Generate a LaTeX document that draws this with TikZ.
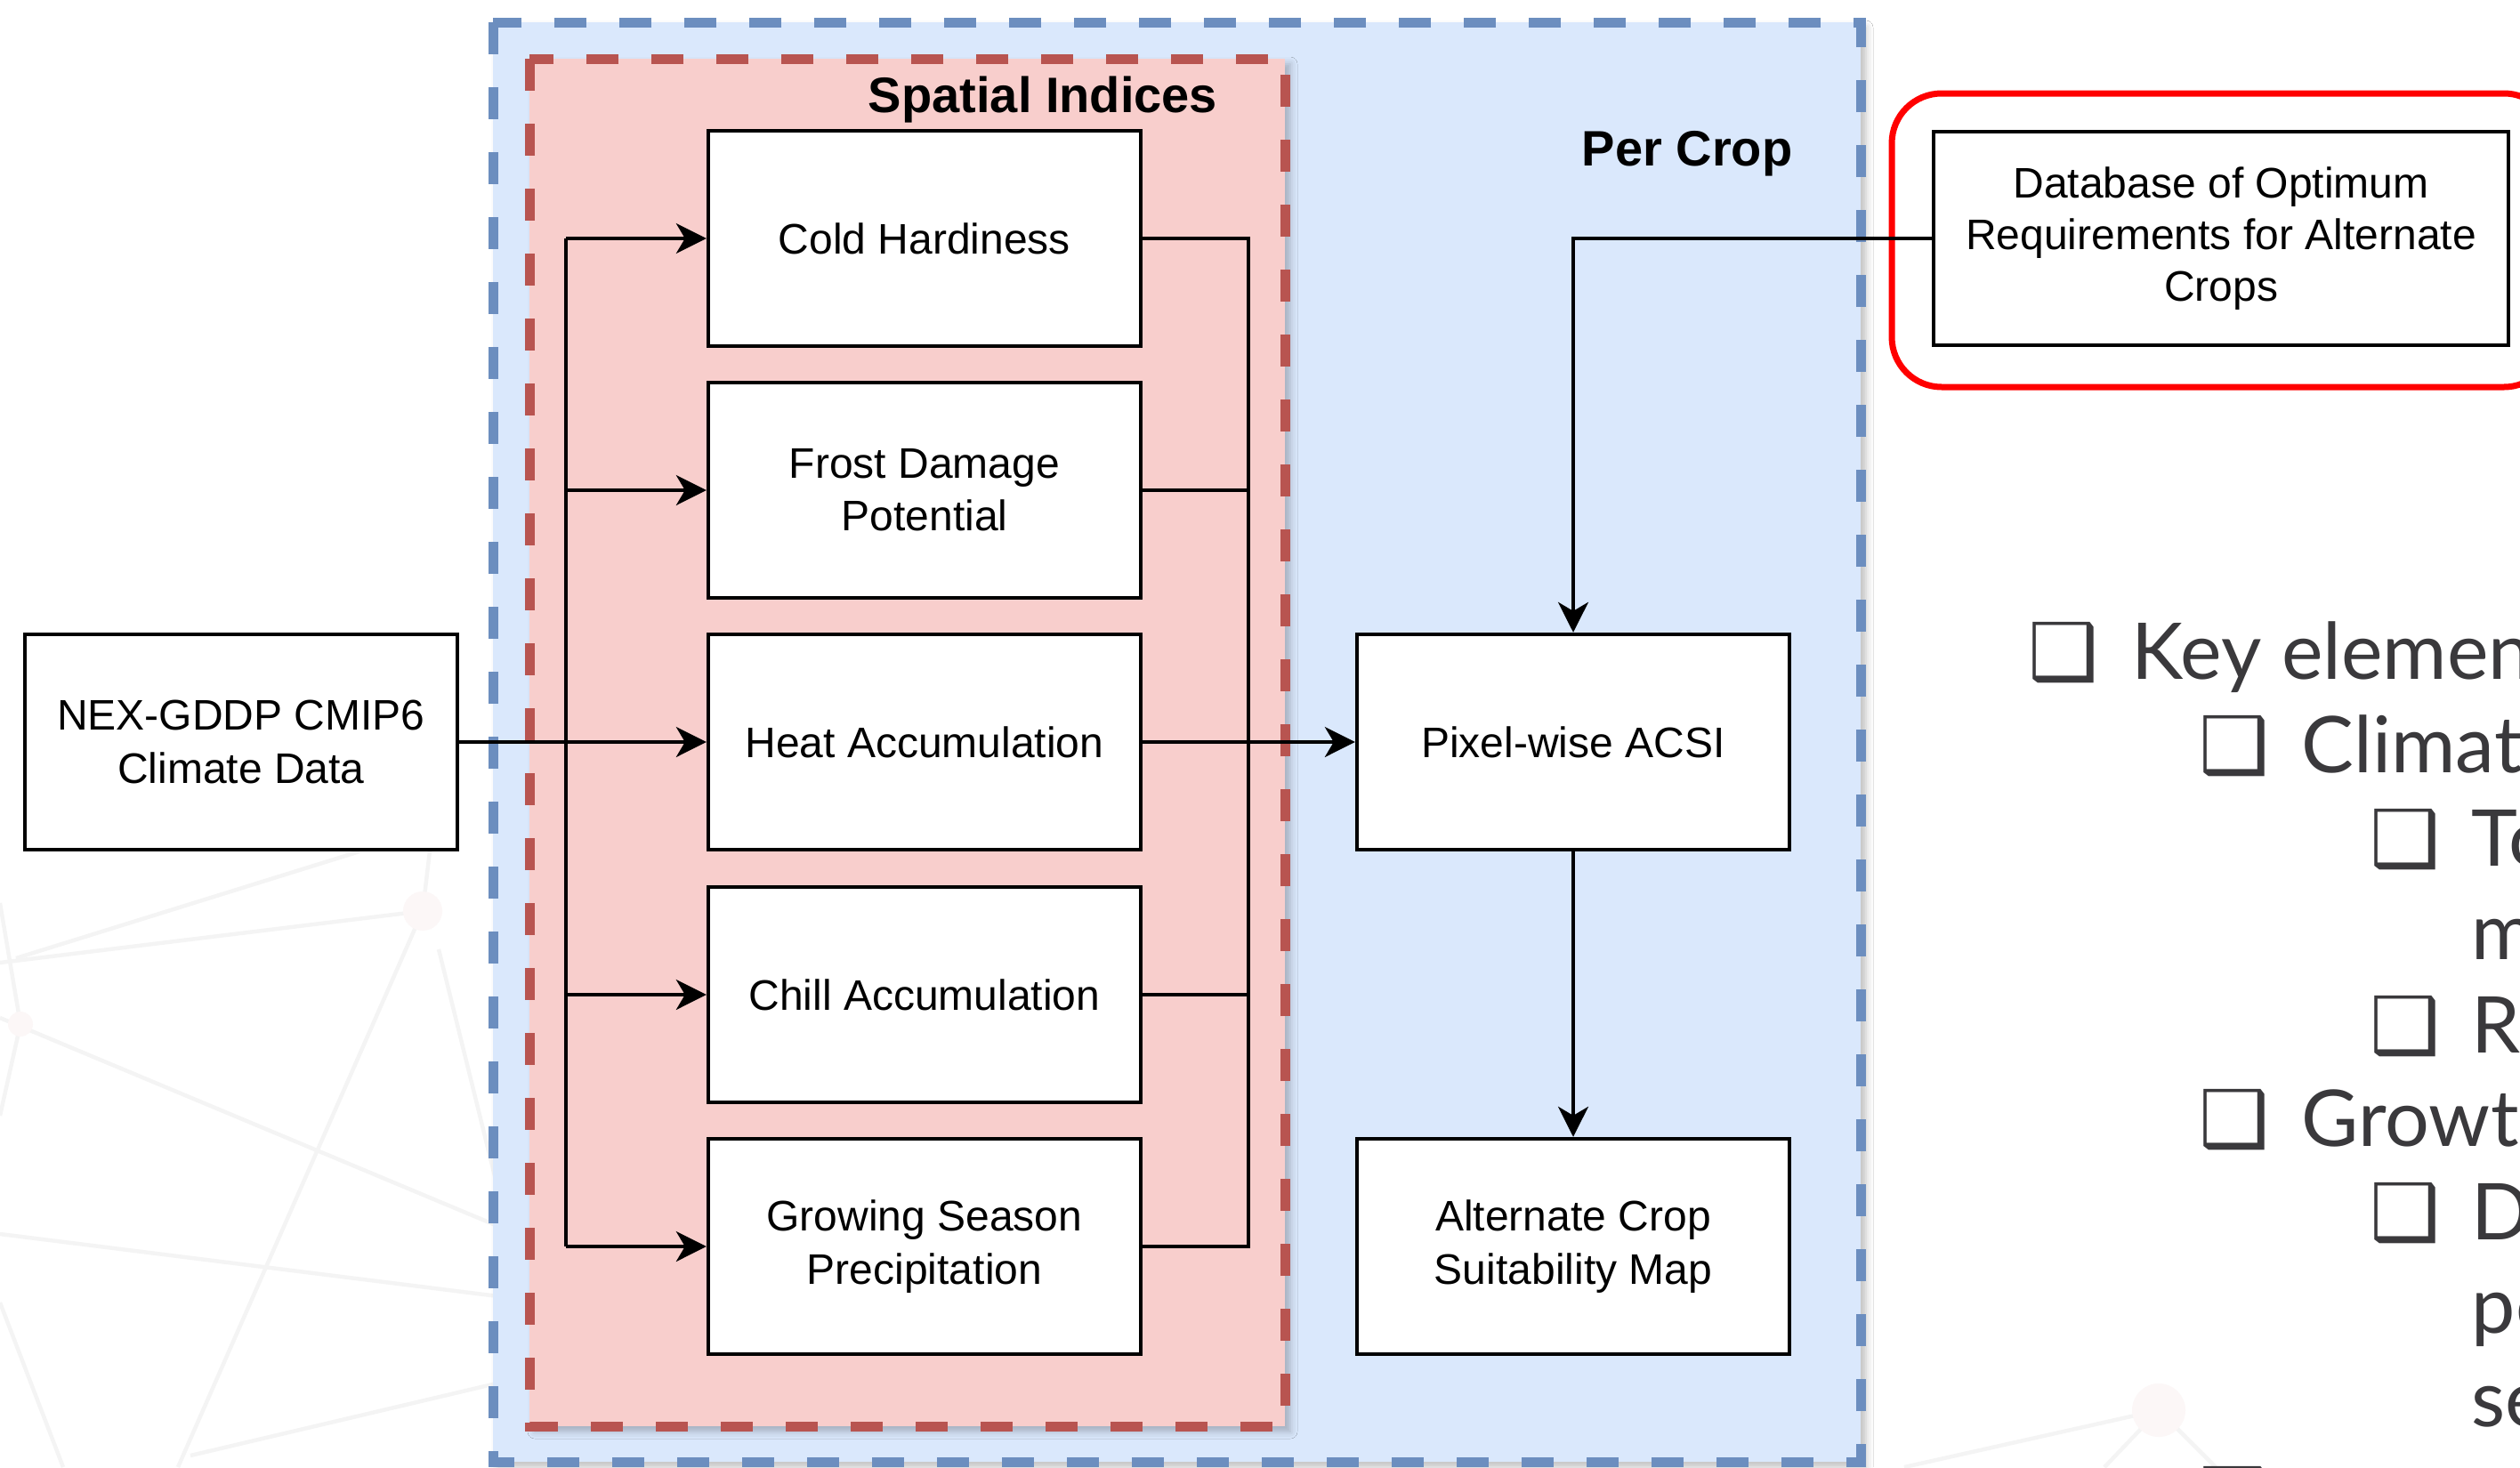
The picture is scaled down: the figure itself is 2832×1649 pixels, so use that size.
\documentclass[tikz,border=0pt]{standalone}
\usepackage{fontspec}
\setmainfont{Liberation Sans}
\newfontfamily\latofont{Lato}
\newfontfamily\symfont{DejaVu Sans}
\usetikzlibrary{arrows.meta,shadows.blur}

\definecolor{bluefill}{HTML}{DAE8FC}
\definecolor{bluestroke}{HTML}{6C8EBF}
\definecolor{redfill}{HTML}{F8CECC}
\definecolor{redstroke}{HTML}{B85450}
\definecolor{hilite}{HTML}{FF0000}
\definecolor{slidetext}{HTML}{3A393C}
\definecolor{netline}{HTML}{F4F4F4}
\definecolor{netdot}{HTML}{FCF7F7}

\tikzset{
  proc/.style={draw=black, line width=1.1pt, fill=white, minimum width=121.5pt,
    minimum height=60.5pt, inner sep=2pt, align=center,
    font=\fontsize{12}{14.8}\selectfont},
  wideproc/.style={proc, minimum width=161.5pt, minimum height=60pt,
    font=\fontsize{12}{14.6}\selectfont},
  conn/.style={draw=black, line width=0.8pt},
  arr/.style={conn, -{Stealth[length=8.5pt,width=8.5pt,inset=2.5pt]}},
  groupbox/.style={line width=2.75pt, dash pattern=on 9pt off 9.25pt,
    blur shadow={shadow xshift=1.5pt, shadow yshift=-1.5pt, shadow opacity=25, shadow blur radius=2pt}},
  grouptitle/.style={font=\bfseries\fontsize{14}{16}\selectfont, inner sep=0pt},
  netedge/.style={draw=netline, line width=1.1pt},
  bullet/.style={anchor=base west, inner sep=0pt, text=slidetext,
    font=\symfont\fontsize{22}{26}\selectfont},
  slideline/.style={anchor=base west, inner sep=0pt, text=slidetext,
    font=\latofont\fontsize{22}{26}\selectfont}
}

\begin{document}
\begin{tikzpicture}[x=0.25pt,y=-0.25pt]
\useasboundingbox[fill=white] (0,0) rectangle (2832,1649);

% faint network pattern of the slide background
\draw[netedge] (0,1082) -- (475,1024) -- (200,1649);
\draw[netedge] (475,1024) -- (484,948);
\draw[netedge] (493,1067) -- (600,1500);
\draw[netedge] (0,1144) -- (600,1395);
\draw[netedge] (0,1387) -- (600,1462);
\draw[netedge] (0,1015) -- (23,1151) -- (0,1254);
\draw[netedge] (404,957) -- (18,1077);
\draw[netedge] (0,1464) -- (71,1649);
\draw[netedge] (214,1636) -- (600,1545);
\draw[netedge] (2140,1649) -- (2426,1585) -- (2365,1649);
\draw[netedge] (2426,1585) -- (2490,1649);
\fill[netdot] (475,1024) circle (22);
\fill[netdot] (23,1151) circle (14);
\fill[netdot] (2426,1585) circle (30);

% group frames
\draw[groupbox, draw=bluestroke, fill=bluefill] (554,25) rectangle (2091,1643);
\draw[groupbox, draw=redstroke, fill=redfill] (595,66) rectangle (1444,1603);

\node[grouptitle] (tspatial) at (1172,112) {Spatial Indices};
\node[grouptitle] (tcrop) at (1896,173) {Per Crop};

% process boxes
\node[proc] (nex) at (271,834) {NEX-GDDP CMIP6\\Climate Data};
\node[proc] (cold) at (1039,268) {Cold Hardiness};
\node[proc] (frost) at (1039,551) {Frost Damage\\Potential};
\node[proc] (heat) at (1039,834) {Heat Accumulation};
\node[proc] (chill) at (1039,1118) {Chill Accumulation};
\node[proc] (gsp) at (1039,1401) {Growing Season\\Precipitation};
\node[proc] (acsi) at (1768,834) {Pixel-wise ACSI};
\node[proc] (alt) at (1768,1401) {Alternate Crop\\Suitability Map};
\node[wideproc] (db) at (2496,268) {Database of Optimum\\Requirements for Alternate\\Crops};

% highlight around the database
\draw[hilite, line width=1.75pt, rounded corners=14pt] (2126,105) rectangle (2870,435);

% distribution bus into the indices
\coordinate (lb) at (636,834);
\coordinate (rb) at (1403,834);
\draw[conn] (lb |- cold.west) -- (lb |- gsp.west);
\draw[arr] (nex.east) -- (heat.west);
\draw[arr] (lb |- cold.west) -- (cold.west);
\draw[arr] (lb |- frost.west) -- (frost.west);
\draw[arr] (lb |- chill.west) -- (chill.west);
\draw[arr] (lb |- gsp.west) -- (gsp.west);

% collecting bus out of the indices
\draw[conn] (cold.east) -- (rb |- cold.east) -- (rb |- gsp.east) -- (gsp.east);
\draw[conn] (frost.east) -- (rb |- frost.east);
\draw[conn] (chill.east) -- (rb |- chill.east);
\draw[arr] (heat.east) -- (acsi.west);

\draw[arr] (db.west) -| (acsi.north);
\draw[arr] (acsi.south) -- (alt.north);

% slide bullet list
\node[bullet] (b0) at (2279,763) {❑};
\node[slideline] (s0) at (2395,763) {Key elemen};
\node[bullet] (b1) at (2471,868) {❑};
\node[slideline] (s1) at (2586,868) {Climat};
\node[bullet] (b2) at (2663,973) {❑};
\node[slideline] (s2) at (2777,973) {To};
\node[slideline] (s3) at (2777,1078) {m};
\node[bullet] (b4) at (2663,1183) {❑};
\node[slideline] (s4) at (2777,1183) {R};
\node[bullet] (b5) at (2471,1288) {❑};
\node[slideline] (s5) at (2586,1288) {Growt};
\node[bullet] (b6) at (2663,1393) {❑};
\node[slideline] (s6) at (2777,1393) {D};
\node[slideline] (s7) at (2777,1498) {pe};
\node[slideline] (s8) at (2777,1603) {se};
\node[bullet] (b9) at (2471,1712) {❑};
\end{tikzpicture}
\end{document}
